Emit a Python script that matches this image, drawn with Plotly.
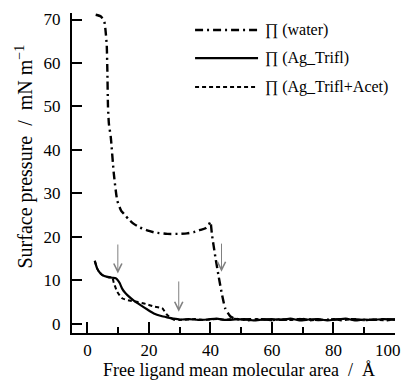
import plotly.graph_objects as go

# ---- data ----
water_x = [2.7, 4.4, 5.5, 5.9, 6.3, 6.5, 6.7, 7.0, 7.6, 8.6, 9.7, 11.0, 12.0, 13.5, 15.1, 17.0,
           19.4, 22.0, 26.0, 30.0, 32.4, 34.6, 36.7, 38.4, 39.5, 40.0, 40.5, 41.6, 42.7, 43.8,
           44.8, 46.5, 48.0, 50.0, 55, 60, 65, 70, 75, 80, 85, 90, 95, 100]
water_y = [71.1, 70.7, 69.5, 67.5, 64.0, 58.0, 50.0, 46.0, 43.0, 34.5, 28.4, 26.0, 25.2, 24.0,
           23.0, 22.2, 21.5, 21.0, 20.7, 20.7, 20.8, 21.1, 21.6, 22.0, 22.8, 23.5, 20.5, 15.4,
           10.8, 6.6, 3.6, 1.7, 1.2, 1.0, 1.1, 0.9, 1.0, 1.1, 0.9, 1.0, 1.1, 0.9, 1.0, 1.0]

trifl_x = [2.4, 3.2, 4.0, 4.9, 6.5, 8.1, 9.2, 9.7, 10.5, 11.3, 12.2, 13.0, 15.0, 17.3, 19.5,
           21.6, 24.0, 25.9, 28.0, 30.2, 33, 36, 39, 42, 45, 48, 51, 54, 57, 60, 63, 66, 69,
           72, 75, 78, 81, 84, 87, 90, 93, 96, 100]
trifl_y = [14.5, 12.7, 11.8, 11.2, 10.8, 10.6, 10.5, 10.2, 9.4, 8.1, 7.2, 6.6, 5.4, 4.3, 3.3,
           2.4, 1.8, 1.5, 1.2, 1.0, 1.1, 0.9, 1.0, 1.2, 0.9, 1.0, 1.1, 0.8, 1.0, 1.1, 0.9, 1.2,
           0.8, 1.0, 1.1, 0.8, 1.0, 1.2, 0.8, 1.0, 0.9, 1.1, 1.0]

acet_x = [2.4, 3.2, 4.0, 4.9, 6.5, 8.1, 8.6, 9.7, 11.3, 14.0, 16.5, 18.9, 21.6, 24.3, 25.9,
          28.0, 30.0, 32.5, 35, 37.5, 40, 42.5, 45, 47.5, 50, 52.5, 55, 57.5, 60, 62.5, 65,
          67.5, 70, 72.5, 75, 77.5, 80, 82.5, 85, 87.5, 90, 92.5, 95, 97.5, 100]
acet_y = [14.5, 12.7, 11.8, 11.2, 10.8, 10.6, 9.4, 7.4, 5.9, 5.3, 5.0, 4.6, 4.0, 3.6, 2.1,
          1.0, 0.9, 1.0, 1.1, 0.9, 1.0, 1.1, 0.9, 1.2, 1.0, 0.8, 1.1, 1.0, 0.8, 1.1, 0.9, 1.0,
          1.2, 0.8, 1.0, 0.9, 1.1, 0.8, 1.0, 1.1, 0.8, 1.0, 0.9, 0.8, 1.0]

arrow_x = [9.9, 29.7, 43.6]
arrow_head_y = [11.6, 2.8, 12.0]
arrow_tail_y = [18.6, 10.1, 18.8]

legend_labels = ["\u220f (water)", "\u220f (Ag_Trifl)", "\u220f (Ag_Trifl+Acet)"]
x_ticks = [0, 20, 40, 60, 80, 100]
x_last_label = "100"
y_ticks = [0, 10, 20, 30, 40, 50, 60, 70]

FONT = "Liberation Serif, Times New Roman, serif"
dashes = ["8px,4px,2px,4px", "solid", "4px,3px"]
widths = [2.4, 2.2, 2.0]

fig = go.Figure()
for xs, ys, d, w in [(water_x, water_y, dashes[0], widths[0]),
                     (trifl_x, trifl_y, dashes[1], widths[1]),
                     (acet_x, acet_y, dashes[2], widths[2])]:
    fig.add_trace(go.Scatter(x=xs, y=ys, mode="lines", showlegend=False,
                             line=dict(color="black", width=w, dash=d, shape="spline", smoothing=0.5)))

# arrows
for ax_, hy, ty in zip(arrow_x, arrow_head_y, arrow_tail_y):
    fig.add_annotation(x=ax_, y=hy, ax=ax_, ay=ty, xref="x", yref="y", axref="x", ayref="y",
                       showarrow=True, arrowhead=5, arrowsize=1.6, arrowwidth=1,
                       arrowcolor="#808080", text="")

# legend (drawn manually)
leg_y = [0.947, 0.859, 0.769]
for lab, ly, d, w in zip(legend_labels, leg_y, dashes, widths):
    fig.add_shape(type="line", xref="paper", yref="paper", x0=0.381, x1=0.576, y0=ly, y1=ly,
                  line=dict(color="black", width=w, dash=d))
    fig.add_annotation(text=lab, xref="paper", yref="paper", x=0.590, y=ly,
                       xanchor="left", yanchor="middle", showarrow=False,
                       font=dict(family=FONT, size=16, color="black"))

# last x tick label (kept inside the page like the reference)
fig.add_annotation(text=x_last_label, xref="x", yref="paper", x=x_ticks[-1], y=-0.055,
                   xanchor="center", yanchor="middle", xshift=-7, showarrow=False,
                   font=dict(family=FONT, size=17, color="black"))

# axis titles
fig.add_annotation(text="Free ligand mean molecular area  /  \u00c5", xref="paper", yref="paper",
                   x=0.517, y=-0.117, xanchor="center", yanchor="middle", showarrow=False,
                   font=dict(family=FONT, size=18, color="black"))
fig.add_annotation(text="Surface pressure  /  mN m<sup>\u22121</sup>", xref="paper", yref="paper",
                   x=-0.150, y=0.55, xanchor="center", yanchor="middle", textangle=-90,
                   showarrow=False, font=dict(family=FONT, size=20, color="black"))

fig.update_xaxes(range=[-5, 100], tickvals=x_ticks, ticktext=[str(v) for v in x_ticks[:-1]] + [""],
                 ticks="inside", ticklen=11, tickwidth=1.5,
                 tickcolor="black", showline=True, linecolor="black", linewidth=2,
                 showgrid=False, zeroline=False, ticklabelstandoff=1,
                 minor=dict(ticks="inside", ticklen=6, tickwidth=1.5, tickcolor="black",
                            tickvals=[10, 30, 50, 70, 90], showgrid=False),
                 tickfont=dict(family=FONT, size=17, color="black"))
fig.update_yaxes(range=[-2.1, 71.5], tickvals=y_ticks, ticks="inside", ticklen=10, tickwidth=1.5,
                 tickcolor="black", showline=True, linecolor="black", linewidth=2,
                 showgrid=False, zeroline=False, ticklabelstandoff=6,
                 tickfont=dict(family=FONT, size=17, color="black"))

fig.update_layout(width=406, height=380, margin=dict(l=72, r=11, t=13, b=47),
                  plot_bgcolor="white", paper_bgcolor="white", showlegend=False,
                  font=dict(family=FONT, color="black"))

fig.write_html("out.html")
